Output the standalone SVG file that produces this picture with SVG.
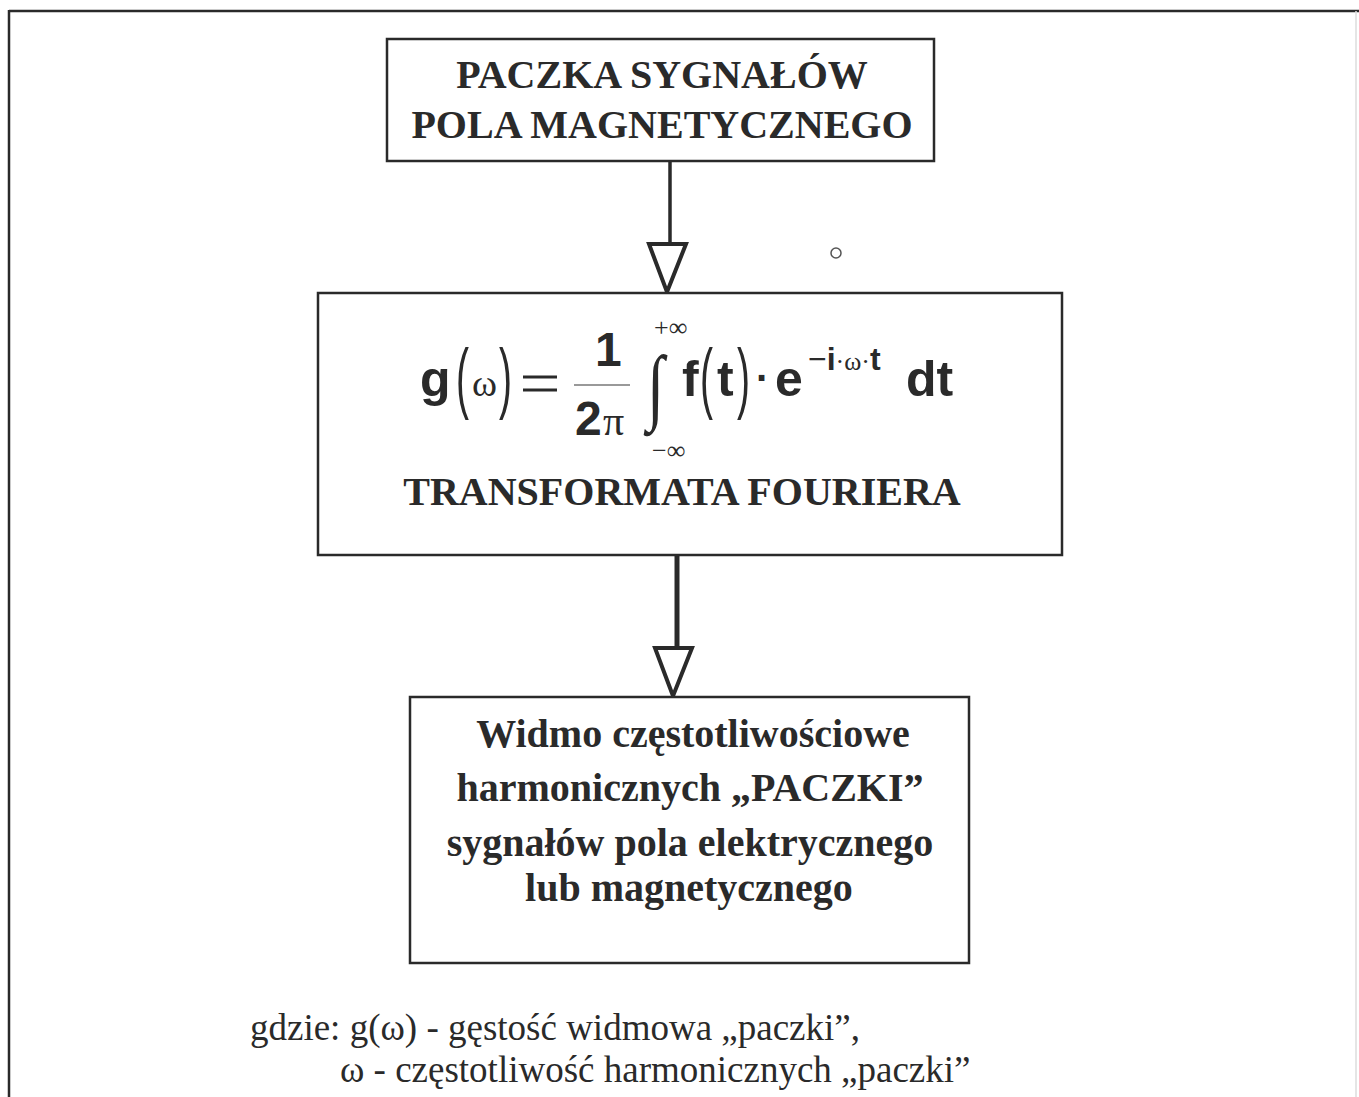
<svg xmlns="http://www.w3.org/2000/svg" width="1359" height="1097" viewBox="0 0 1359 1097">
<style>
.box{fill:#fff;stroke:#2a2a2a;stroke-width:2.5}
.tb{font-family:"Liberation Serif",serif;font-weight:bold;fill:#2a2a2a;text-anchor:middle}
.tr{font-family:"Liberation Serif",serif;fill:#2a2a2a}
.m{font-family:"Liberation Sans",Arial,sans-serif;font-weight:bold;fill:#2a2a2a}
.ms{font-family:"Liberation Serif",serif;fill:#2a2a2a}
.mp{font-family:"Liberation Sans",Arial,sans-serif;fill:#2a2a2a}
.ln{stroke:#2a2a2a;fill:none}
.tri{fill:#fff;stroke:#2a2a2a;stroke-width:4;stroke-linejoin:miter}
</style>
<rect width="1359" height="1097" fill="#fff"/>
<g id="frame">
<line class="ln" x1="9" y1="11" x2="1359" y2="11" stroke-width="2.5"/>
<line class="ln" x1="9" y1="10" x2="9" y2="1097" stroke-width="2.5"/>
<line x1="1356" y1="11" x2="1356" y2="1097" stroke="#ddd" stroke-width="1.5"/>
<circle cx="836" cy="253" r="5" fill="none" stroke="#555" stroke-width="1.5"/>
</g>
<g id="connectors">
<line class="ln" x1="670" y1="161" x2="670" y2="244" stroke-width="3.5"/>
<polygon class="tri" points="649,244 686,244 667,292"/>
<line class="ln" x1="677" y1="555" x2="677" y2="648" stroke-width="5"/>
<polygon class="tri" points="655,648 692,648 673,696"/>
</g>
<g id="node-paczka">
<rect class="box" x="387" y="39" width="547" height="122"/>
<text class="tb" x="662" y="88" font-size="40">PACZKA SYGNAŁÓW</text>
<text class="tb" x="662" y="138" font-size="40">POLA MAGNETYCZNEGO</text>
</g>
<g id="node-fourier">
<rect class="box" x="318" y="293" width="744" height="262" stroke-width="4"/>
<text class="m" x="420" y="396" font-size="50">g</text>
<text class="mp" x="456" y="404" font-size="78" transform="translate(456,404) scale(0.5,1) translate(-456,-404)">(</text>
<text class="ms" x="472" y="396" font-size="38">ω</text>
<text class="mp" x="499" y="404" font-size="78" transform="translate(499,404) scale(0.5,1) translate(-499,-404)">)</text>
<line class="ln" x1="523" y1="377" x2="557" y2="377" stroke-width="3"/>
<line class="ln" x1="523" y1="390" x2="557" y2="390" stroke-width="3"/>
<text class="m" x="595" y="366" font-size="48">1</text>
<line x1="574" y1="385" x2="630" y2="385" stroke="#777" stroke-width="1.5"/>
<text class="m" x="575" y="435" font-size="48">2</text>
<text class="ms" x="603" y="435" font-size="42">π</text>
<text class="ms" x="654" y="336" font-size="26">+∞</text>
<text class="ms" x="647" y="414" font-size="84" transform="translate(647,414) scale(0.75,1) translate(-647,-414)">∫</text>
<text class="ms" x="652" y="459" font-size="26">−∞</text>
<text class="m" x="682" y="396" font-size="50">f</text>
<text class="mp" x="700" y="404" font-size="78" transform="translate(700,404) scale(0.5,1) translate(-700,-404)">(</text>
<text class="m" x="717" y="396" font-size="50">t</text>
<text class="mp" x="737" y="404" font-size="78" transform="translate(737,404) scale(0.5,1) translate(-737,-404)">)</text>
<text class="m" x="756" y="392" font-size="40">·</text>
<text class="m" x="775" y="396" font-size="50">e</text>
<text x="808" y="370" font-size="32"><tspan class="mp">−</tspan><tspan class="m">i</tspan><tspan class="ms" font-size="26">·ω·</tspan><tspan class="m">t</tspan></text>
<text class="m" x="906" y="396" font-size="50">dt</text>
<text class="tb" x="682" y="505" font-size="40">TRANSFORMATA FOURIERA</text>
</g>
<g id="node-widmo">
<rect class="box" x="410" y="697" width="559" height="266"/>
<text class="tb" x="693" y="747" font-size="40">Widmo częstotliwościowe</text>
<text class="tb" x="690" y="801" font-size="40">harmonicznych „PACZKI”</text>
<text class="tb" x="690" y="856" font-size="40">sygnałów pola elektrycznego</text>
<text class="tb" x="689" y="901" font-size="40">lub magnetycznego</text>
</g>
<g id="legend">
<text class="tr" x="250" y="1040" font-size="37">gdzie: g(ω) - gęstość widmowa „paczki”,</text>
<text class="tr" x="340" y="1082" font-size="37">ω - częstotliwość harmonicznych „paczki”</text>
</g>
</svg>
